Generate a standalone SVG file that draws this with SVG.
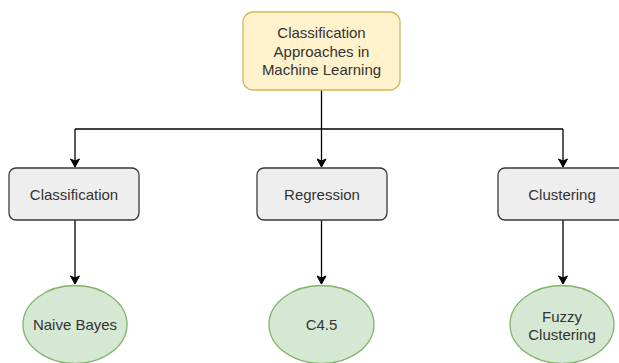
<svg xmlns="http://www.w3.org/2000/svg" width="619" height="363" viewBox="0 0 619 363">
<defs>
<marker id="arr" markerWidth="10" markerHeight="10" refX="9" refY="5" orient="auto" markerUnits="userSpaceOnUse">
<path d="M1,0.5 L9,5 L1,9.5 L3,5 Z" fill="#000" stroke="#000" stroke-width="1"/>
</marker>
<style>
text{font-family:"Liberation Sans",Arial,sans-serif;font-size:15px;fill:#333333;text-anchor:middle}
.top{fill:#fff2cc;stroke:#d6b656;stroke-width:1.3}
.mid{fill:#eeeeee;stroke:#36393d;stroke-width:1.3}
.leaf{fill:#d5e8d4;stroke:#82b366;stroke-width:1.3}
.edge{fill:none;stroke:#000;stroke-width:1.3}
</style>
</defs>
<rect width="619" height="363" fill="#ffffff"/>
<g id="connectors">
<path class="edge" d="M321.5,90 V129"/>
<path class="edge" d="M75,129 H563"/>
<path class="edge" d="M75,129 V167" marker-end="url(#arr)"/>
<path class="edge" d="M321.5,129 V167" marker-end="url(#arr)"/>
<path class="edge" d="M563,129 V167" marker-end="url(#arr)"/>
<path class="edge" d="M75,220 V284" marker-end="url(#arr)"/>
<path class="edge" d="M321.5,220 V284" marker-end="url(#arr)"/>
<path class="edge" d="M563,220 V284" marker-end="url(#arr)"/>
</g>
<g id="root">
<rect class="top" x="243" y="12" width="157" height="78" rx="10"/>
<text x="321.5" y="38">Classification</text>
<text x="321.5" y="56.5">Approaches in</text>
<text x="321.5" y="75">Machine Learning</text>
</g>
<g id="classification">
<rect class="mid" x="9" y="168" width="130" height="52" rx="7"/>
<text x="74" y="200">Classification</text>
</g>
<g id="regression">
<rect class="mid" x="257" y="168" width="130" height="52" rx="7"/>
<text x="322" y="200">Regression</text>
</g>
<g id="clustering">
<rect class="mid" x="498" y="168" width="130" height="52" rx="7"/>
<text x="562" y="200">Clustering</text>
</g>
<g id="naive-bayes">
<ellipse class="leaf" cx="75" cy="324.5" rx="52" ry="39"/>
<text x="75" y="330">Naive Bayes</text>
</g>
<g id="c45">
<ellipse class="leaf" cx="321.5" cy="324.5" rx="52.5" ry="39"/>
<text x="321.5" y="330">C4.5</text>
</g>
<g id="fuzzy">
<ellipse class="leaf" cx="562" cy="324.5" rx="52" ry="39"/>
<text x="562" y="322">Fuzzy</text>
<text x="562" y="340">Clustering</text>
</g>
</svg>
